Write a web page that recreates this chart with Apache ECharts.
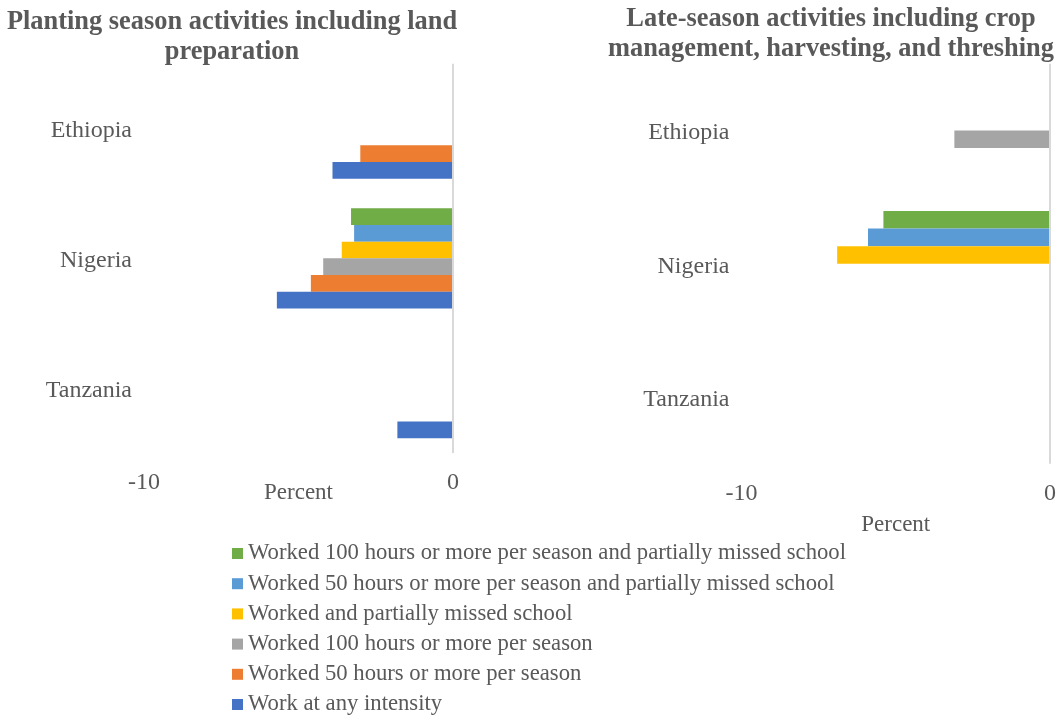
<!DOCTYPE html>
<html>
<head>
<meta charset="utf-8">
<script src="https://cdn.jsdelivr.net/npm/echarts@6/dist/echarts.min.js"></script>
<style>
  html, body { margin: 0; padding: 0; background: #ffffff; }
  #chart { width: 1061px; height: 717px; }
</style>
</head>
<body>
<div id="chart"></div>
<script>
// Countries shown on both panels (top to bottom)
const countries = ['Ethiopia', 'Nigeria', 'Tanzania'];

// Work measures, listed in legend order (top to bottom)
const measureNames = [
  'Worked 100 hours or more per season and partially missed school',
  'Worked 50 hours or more per season and partially missed school',
  'Worked and partially missed school',
  'Worked 100 hours or more per season',
  'Worked 50 hours or more per season',
  'Work at any intensity'
];
const measureColors = ['#70AD47', '#5B9BD5', '#FFC000', '#A5A5A5', '#ED7D31', '#4472C4'];

// Planting season activities including land preparation (percent)
const plantWorked100Missed = [null, -3.3, null];
const plantWorked50Missed  = [null, -3.2, null];
const plantWorkedMissed    = [null, -3.6, null];
const plantWorked100       = [null, -4.2, null];
const plantWorked50        = [-3.0, -4.6, null];
const plantAnyIntensity    = [-3.9, -5.7, -1.8];

// Late-season activities including crop management, harvesting, and threshing (percent)
const lateWorked100Missed = [null, -5.4, null];
const lateWorked50Missed  = [null, -5.9, null];
const lateWorkedMissed    = [null, -6.9, null];
const lateWorked100       = [-3.1, null, null];
const lateWorked50        = [null, null, null];
const lateAnyIntensity    = [null, null, null];

const xTickMin = -10;
const xTickMax = 0;

const plantSeries = [plantWorked100Missed, plantWorked50Missed, plantWorkedMissed,
                     plantWorked100, plantWorked50, plantAnyIntensity];
const lateSeries = [lateWorked100Missed, lateWorked50Missed, lateWorkedMissed,
                    lateWorked100, lateWorked50, lateAnyIntensity];

const FONT = "'Liberation Serif', 'Times New Roman', serif";
const TEXT = '#595959';

function panelSeries(values, gridIdx, gap) {
  return values.map((data, i) => ({
    name: measureNames[i],
    type: 'bar',
    xAxisIndex: gridIdx,
    yAxisIndex: gridIdx,
    data: data,
    barGap: '0%',
    barCategoryGap: gap,
    itemStyle: { color: measureColors[i] },
    markLine: i === 0 ? {
      silent: true,
      symbol: 'none',
      label: { show: false },
      lineStyle: { color: '#D9D9D9', width: 2, type: 'solid' },
      data: [{ xAxis: 0 }]
    } : undefined
  }));
}

function valueAxis(gridIdx, nameGap) {
  return {
    type: 'value',
    gridIndex: gridIdx,
    min: xTickMin,
    max: xTickMax,
    interval: 10,
    name: 'Percent',
    nameLocation: 'middle',
    nameGap: nameGap,
    nameMoveOverlap: false,
    nameTextStyle: { fontFamily: FONT, fontSize: 23, color: TEXT },
    axisLine: { show: false },
    axisTick: { show: false },
    splitLine: { show: false },
    axisLabel: { fontFamily: FONT, fontSize: 24, color: TEXT, margin: 18 }
  };
}

function categoryAxis(gridIdx) {
  return {
    type: 'category',
    gridIndex: gridIdx,
    data: countries,
    inverse: true,
    axisLine: { show: false },
    axisTick: { show: false },
    axisLabel: {
      margin: 12,
      formatter: '{c|{value}}',
      rich: {
        c: { fontFamily: FONT, fontSize: 24, color: TEXT, padding: [5, 0, 0, 0] }
      }
    }
  };
}

const chart = echarts.init(document.getElementById('chart'), null, { renderer: 'canvas' });
chart.setOption({
  animation: false,
  backgroundColor: '#ffffff',
  graphic: [
    {
      type: 'text', x: 232, y: 7,
      style: {
        text: 'Planting season activities including land\npreparation',
        fontFamily: FONT, fontSize: 26.4, fontWeight: 'bold', fill: TEXT,
        align: 'center', verticalAlign: 'top', lineHeight: 30
      }
    },
    {
      type: 'text', x: 831, y: 4,
      style: {
        text: 'Late-season activities including crop\nmanagement, harvesting, and threshing',
        fontFamily: FONT, fontSize: 26.4, fontWeight: 'bold', fill: TEXT,
        align: 'center', verticalAlign: 'top', lineHeight: 30
      }
    }
  ],
  legend: {
    orient: 'vertical',
    left: 232,
    top: 542,
    height: 175,
    padding: 0,
    itemWidth: 11,
    itemHeight: 11,
    itemGap: 7.2,
    icon: 'rect',
    data: measureNames,
    textStyle: { fontFamily: FONT, fontSize: 22.7, color: TEXT, lineHeight: 22.7 }
  },
  grid: [
    { left: 144, right: 1061 - 453, top: 63.7, height: 389.3 },
    { left: 741.5, right: 1061 - 1050, top: 63.8, height: 400 }
  ],
  xAxis: [valueAxis(0, 28), valueAxis(1, 50)],
  yAxis: [categoryAxis(0), categoryAxis(1)],
  series: panelSeries(plantSeries, 0, '22.7%').concat(panelSeries(lateSeries, 1, '20.8%'))
});
</script>
</body>
</html>
